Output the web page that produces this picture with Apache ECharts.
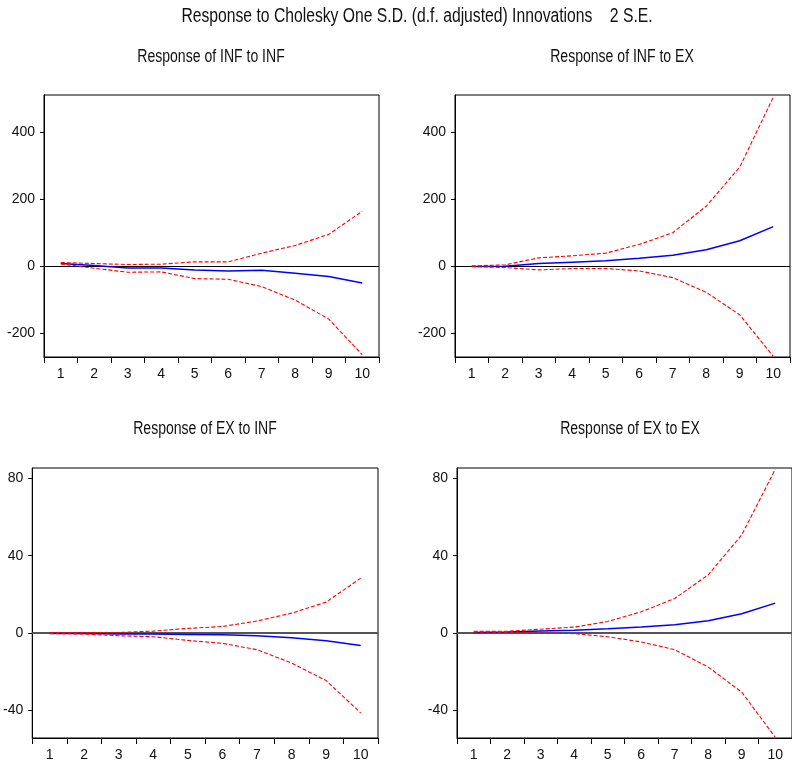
<!DOCTYPE html>
<html>
<head>
<meta charset="utf-8">
<script src="https://cdn.jsdelivr.net/npm/echarts@6/dist/echarts.min.js"></script>
<style>
html,body{margin:0;padding:0;background:#fff;}
#chart{width:792px;height:765px;}
</style>
</head>
<body>
<div id="chart"></div>
<script>
const mainTitle = 'Response to Cholesky One S.D. (d.f. adjusted) Innovations    2 S.E.';
const panelTitles = ['Response of INF to INF', 'Response of INF to EX', 'Response of EX to INF', 'Response of EX to EX'];
const categories = ['1','2','3','4','5','6','7','8','9','10'];

// Response of INF to INF
const infInfResp  = [9, 3, -4, -4, -10, -13, -11, -20, -30, -49];
const infInfUpper = [12, 9, 6, 7, 14, 14, 40, 63, 96, 165];
const infInfLower = [8, -5, -17, -16, -36, -38, -60, -100, -157, -263];

// Response of INF to EX
const infExResp  = [0, 1, 9, 13, 17, 25, 34, 50, 77, 119];
const infExUpper = [2, 5, 26, 32, 40, 66, 101, 180, 297, 505];
const infExLower = [0, -3, -10, -6, -6, -13, -33, -77, -144, -268];

// Response of EX to INF
const exInfResp  = [-0.2, -0.2, -0.5, -0.5, -0.7, -0.9, -1.4, -2.4, -4.0, -6.4];
const exInfUpper = [0.2, 0.2, 0.3, 1.0, 2.4, 3.4, 6.2, 10.3, 16.0, 28.4];
const exInfLower = [-0.2, -0.5, -1.4, -1.9, -3.8, -5.3, -8.6, -15.5, -24.6, -41.3];

// Response of EX to EX
const exExResp  = [0.3, 0.5, 1.0, 1.5, 2.2, 3.1, 4.3, 6.4, 10.0, 15.5];
const exExUpper = [0.9, 0.9, 2.0, 3.1, 6.0, 11.0, 17.9, 30.1, 50.8, 84.7];
const exExLower = [0.5, 0.3, 0.0, -0.3, -1.9, -4.6, -8.6, -17.6, -30.6, -53.9];

const topTicks = [-200, 0, 200, 400];
const bottomTicks = [-40, 0, 40, 80];

const FONT = "'Liberation Sans', Arial, sans-serif";

const panels = [
  {resp: infInfResp, up: infInfUpper, lo: infInfLower, min: -270, max: 512, ticks: topTicks,
   grid: {left: 44, top: 95, width: 335, height: 262}, tx: 211, ty: 57, zeroColor: '#000', zeroW: 1},
  {resp: infExResp, up: infExUpper, lo: infExLower, min: -270, max: 512, ticks: topTicks,
   grid: {left: 455, top: 95, width: 335, height: 262}, tx: 622, ty: 57, zeroColor: '#000', zeroW: 1},
  {resp: exInfResp, up: exInfUpper, lo: exInfLower, min: -54.3, max: 85.4, ticks: bottomTicks,
   grid: {left: 32, top: 468, width: 346, height: 270}, tx: 205, ty: 429, zeroColor: '#555', zeroW: 2},
  {resp: exExResp, up: exExUpper, lo: exExLower, min: -54.3, max: 85.4, ticks: bottomTicks,
   grid: {left: 457, top: 468, width: 336, height: 270}, tx: 630, ty: 429, zeroColor: '#555', zeroW: 2}
];

const grids = [], xAxes = [], yAxes = [], series = [], graphics = [];

graphics.push({type: 'text', x: 417, y: 16, scaleX: 0.785, style: {text: mainTitle, x: 0, y: 0, textAlign: 'center', textVerticalAlign: 'middle', font: '20px ' + FONT, fill: '#111'}});

panels.forEach((p, i) => {
  grids.push(Object.assign({show: true, borderColor: '#000', borderWidth: 1, backgroundColor: 'transparent', containLabel: false}, p.grid));
  xAxes.push({
    type: 'category', gridIndex: i, data: categories, boundaryGap: true,
    axisLine: {show: true, onZero: false, lineStyle: {color: '#000', width: 1}},
    axisTick: {show: true, interval: 0, length: 6, inside: false, lineStyle: {color: '#000'}},
    axisLabel: {interval: 0, margin: 10, color: '#111', fontFamily: FONT, fontSize: 14},
    splitLine: {show: false}
  });
  yAxes.push({
    type: 'value', gridIndex: i, min: p.min, max: p.max,
    axisLine: {show: true, onZero: false, lineStyle: {color: '#000', width: 1}},
    axisTick: {show: true, length: 4, inside: false, customValues: p.ticks, lineStyle: {color: '#000'}},
    axisLabel: {margin: 9, color: '#111', fontFamily: FONT, fontSize: 14, customValues: p.ticks, padding: [0, 0, 6, 0]},
    splitLine: {show: false}
  });
  series.push({
    type: 'line', xAxisIndex: i, yAxisIndex: i, data: p.resp, showSymbol: false, symbol: 'none',
    lineStyle: {color: '#0000ff', width: 1.5, type: 'solid'}, z: 3, silent: true, animation: false,
    markLine: {silent: true, symbol: 'none', label: {show: false}, animation: false,
      lineStyle: {color: p.zeroColor, width: p.zeroW, type: 'solid'}, data: [{yAxis: 0}], z: 1}
  });
  series.push({
    type: 'line', xAxisIndex: i, yAxisIndex: i, data: p.up, showSymbol: false, symbol: 'none',
    lineStyle: {color: '#ff0000', width: 1.1, type: [4, 2]}, z: 4, silent: true, animation: false
  });
  series.push({
    type: 'line', xAxisIndex: i, yAxisIndex: i, data: p.lo, showSymbol: false, symbol: 'none',
    lineStyle: {color: '#ff0000', width: 1.1, type: [4, 2]}, z: 4, silent: true, animation: false
  });
  graphics.push({type: 'text', x: p.tx, y: p.ty, scaleX: 0.78, style: {text: panelTitles[i], x: 0, y: 0, textAlign: 'center', textVerticalAlign: 'middle', font: '18px ' + FONT, fill: '#111'}});
});

const chart = echarts.init(document.getElementById('chart'), null, {renderer: 'canvas'});
chart.setOption({
  animation: false,
  backgroundColor: '#fff',
  grid: grids, xAxis: xAxes, yAxis: yAxes, series: series,
  graphic: graphics
});
</script>
</body>
</html>
